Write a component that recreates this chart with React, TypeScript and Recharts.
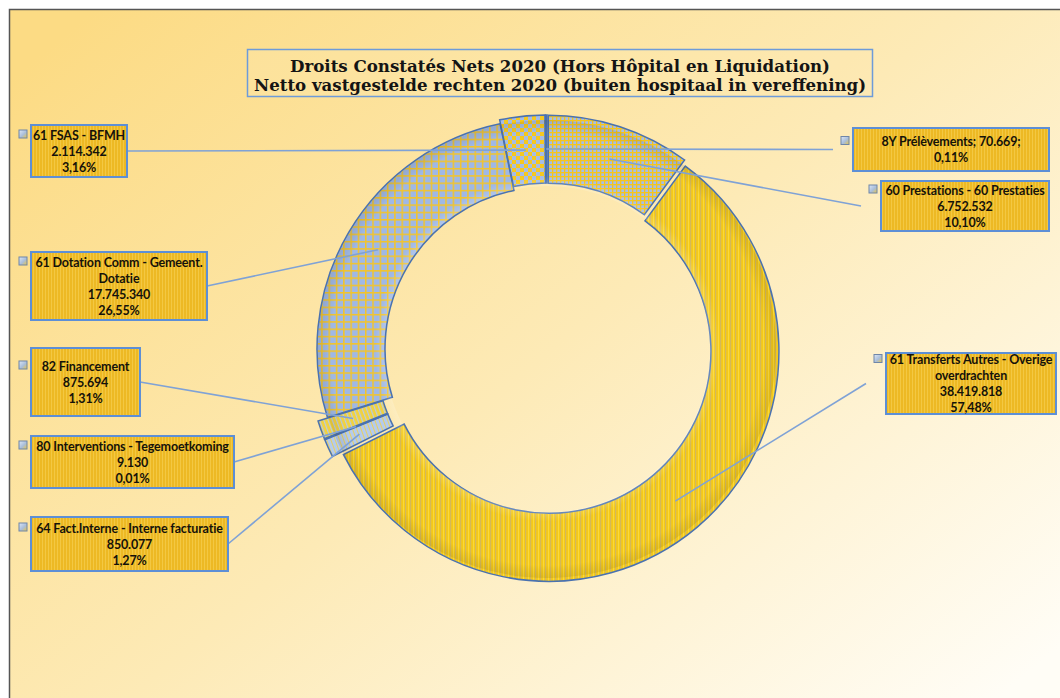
import React from 'react';
import { PieChart, Pie, Cell } from 'recharts';

// slices clockwise from 12 o'clock, as in the source workbook
const categories = [
  '60 Prestations - 60 Prestaties',
  '61 Transferts Autres - Overige overdrachten',
  '64 Fact.Interne - Interne facturatie',
  '80 Interventions - Tegemoetkoming',
  '82 Financement',
  '61 Dotation Comm - Gemeent. Dotatie',
  '61 FSAS - BFMH',
  '8Y Prélèvements',
];
const amounts = [6752532, 38419818, 850077, 9130, 875694, 17745340, 2114342, 70669];

const titleLines = [
  'Droits Constatés Nets 2020 (Hors Hôpital en Liquidation)',
  'Netto vastgestelde rechten 2020 (buiten hospitaal in vereffening)',
];

// label layout (where each text box sits, where its name wraps)
const boxes = [
  { x: 881, y: 181, w: 168, h: 50, side: 'right' },
  { x: 886, y: 353, w: 170, h: 61, side: 'right' },
  { x: 31, y: 517, w: 197, h: 54, side: 'left' },
  { x: 31, y: 436, w: 203, h: 52, side: 'left' },
  { x: 31, y: 348, w: 109, h: 68, side: 'left' },
  { x: 31, y: 252, w: 176, h: 68, side: 'left' },
  { x: 31, y: 125, w: 96, h: 52, side: 'left' },
  { x: 853, y: 128, w: 196, h: 43, side: 'right' },
];
const breakAfter = ['', 'Overige', '', '', '', 'Gemeent.', '', ''];
const inlineLabel = [false, false, false, false, false, false, false, true];

const fills = [
  'url(#patPrest)',
  'url(#patTransf)',
  'url(#patFact)',
  'url(#patFin)',
  'url(#patFin)',
  'url(#patDot)',
  'url(#patFsas)',
  '#4a6ea8',
];
const explode = [4, 3, 10, 10, 10, 0, 4, 4];

const CX = 547;
const CY = 349;
const INNER = 162;
const OUTER = 230;
const RAD = Math.PI / 180;
const EDGE = '#4a72b0';

const total = amounts.reduce((s, v) => s + v, 0);
const data = categories.map((name, i) => ({ name, value: amounts[i] }));

const fmtAmount = (n: number) => String(n).replace(/\B(?=(\d{3})+(?!\d))/g, '.');
const fmtPct = (n: number) => ((n / total) * 100).toFixed(2).replace('.', ',') + '%';

function labelLines(i: number): string[] {
  const name = categories[i];
  if (inlineLabel[i]) return [`${name}; ${fmtAmount(amounts[i])};`, fmtPct(amounts[i])];
  const cut = breakAfter[i];
  const nameRows = cut ? [name.slice(0, name.indexOf(cut) + cut.length), name.slice(name.indexOf(cut) + cut.length + 1)] : [name];
  return [...nameRows, fmtAmount(amounts[i]), fmtPct(amounts[i])];
}

// mid angle (recharts convention) of a slice, used to push exploded slices outwards
function midAngle(i: number) {
  const before = amounts.slice(0, i).reduce((s, v) => s + v, 0);
  return 90 - 360 * ((before + amounts[i] / 2) / total);
}

const renderLabel = (props: any) => {
  const { cx, cy, midAngle: mid, index } = props;
  const b = boxes[index];
  const r = (INNER + OUTER) / 2 + explode[index];
  const sx = cx + r * Math.cos(-mid * RAD);
  const sy = cy + r * Math.sin(-mid * RAD);
  const ex = b.side === 'left' ? b.x + b.w : b.x - 20;
  const ey = b.y + b.h / 2;
  const lines = labelLines(index);
  const top = b.y + b.h / 2 - (lines.length - 1) * 8;
  return (
    <g key={`lbl-${index}`}>
      <line x1={sx} y1={sy} x2={ex} y2={ey} stroke="#7fa2d6" strokeWidth={1.6} />
      <rect x={b.x} y={b.y} width={b.w} height={b.h} fill="url(#boxStripes)" stroke="#5d8fd6" strokeWidth={2} />
      <rect x={b.x - 12} y={top - 5} width={8} height={8} fill="url(#keyGrad)" stroke="#6f86a8" strokeWidth={1} />
      {lines.map((t, j) => (
        <text
          key={j}
          x={b.x + b.w / 2}
          y={top + j * 16}
          textAnchor="middle"
          dominantBaseline="central"
          fontFamily="Lato, sans-serif"
          fontWeight="bold"
          fontSize={12.5}
          letterSpacing={-0.15}
          fill="#15120a"
        >
          {t}
        </text>
      ))}
    </g>
  );
};

function Patterns() {
  return (
    <defs>
      <linearGradient id="bgGrad" x1="0" y1="0.1" x2="1" y2="0.9">
        <stop offset="0" stopColor="#fcdb84" />
        <stop offset="0.5" stopColor="#fdeab6" />
        <stop offset="1" stopColor="#fffdf6" />
      </linearGradient>
      <linearGradient id="keyGrad" x1="0" y1="0" x2="1" y2="1">
        <stop offset="0" stopColor="#dfe8f4" />
        <stop offset="0.55" stopColor="#a9bedb" />
        <stop offset="1" stopColor="#e9c542" />
      </linearGradient>
      <radialGradient id="bevel" gradientUnits="userSpaceOnUse" cx={CX} cy={CY} r={OUTER}>
        <stop offset="0.7" stopColor="#ffffff" stopOpacity={0.22} />
        <stop offset="0.75" stopColor="#ffffff" stopOpacity={0} />
        <stop offset="0.94" stopColor="#000000" stopOpacity={0} />
        <stop offset="1" stopColor="#3a2a00" stopOpacity={0.12} />
      </radialGradient>
      <pattern id="boxStripes" width="3" height="4" patternUnits="userSpaceOnUse">
        <rect width="3" height="4" fill="#edb924" />
        <rect width="1" height="4" fill="#f3c843" />
      </pattern>
      <pattern id="patTransf" width="5" height="4" patternUnits="userSpaceOnUse">
        <rect width="5" height="4" fill="#f5c918" />
        <rect x="0" width="1.2" height="4" fill="#d4b95a" />
        <rect x="3" width="0.8" height="4" fill="#fadd44" />
      </pattern>
      <pattern id="patPrest" width="4" height="4" patternUnits="userSpaceOnUse">
        <rect width="4" height="4" fill="#a6bee6" />
        <rect width="4" height="1.3" fill="#f5c51c" />
        <rect width="1.3" height="4" fill="#f5c51c" />
      </pattern>
      <pattern id="patDot" width="7.3" height="7.3" patternUnits="userSpaceOnUse">
        <rect width="7.3" height="7.3" fill="#9fb8e6" />
        <rect width="7.3" height="1.5" fill="#f3c42a" />
        <rect width="1.5" height="7.3" fill="#f3c42a" />
      </pattern>
      <pattern id="patFsas" width="8" height="8" patternUnits="userSpaceOnUse">
        <rect width="8" height="8" fill="#a6bde6" />
        <rect width="4" height="4" fill="#f6c81e" />
        <rect x="4" y="4" width="4" height="4" fill="#f6c81e" />
      </pattern>
      <pattern id="patFact" width="4" height="4" patternUnits="userSpaceOnUse" patternTransform="rotate(-20)">
        <rect width="4" height="4" fill="#b4cbee" />
        <rect width="1" height="4" fill="#e8d060" />
      </pattern>
      <pattern id="patFin" width="4" height="4" patternUnits="userSpaceOnUse" patternTransform="rotate(-20)">
        <rect width="4" height="4" fill="#f2d23c" />
        <rect width="1.2" height="4" fill="#b8cbe6" />
      </pattern>
    </defs>
  );
}

export default function App() {
  const exploded = explode.map((e, i) => (e > 0 ? i : -1)).filter((i) => i >= 0);
  return (
    <div style={{ position: 'absolute', left: 0, top: 0, width: 1060, height: 698, background: '#fff', overflow: 'hidden' }}>
      <svg width={1060} height={698} style={{ position: 'absolute', left: 0, top: 0 }}>
        <Patterns />
        <rect x={9.5} y={9.5} width={1060} height={700} fill="url(#bgGrad)" stroke="#555" strokeWidth={1.5} />
        <rect x={247.5} y={49.5} width={625} height={47} fill="#fde9ae" fillOpacity={0.35} stroke="#6d9bd9" strokeWidth={1.5} />
        {titleLines.map((t, i) => (
          <text
            key={i}
            x={560}
            y={72 + i * 19}
            textAnchor="middle"
            fontFamily="'DejaVu Serif Condensed', 'DejaVu Serif', serif"
            fontWeight="bold"
            fontSize={16}
            textLength={i === 0 ? 540 : 612}
            lengthAdjust="spacingAndGlyphs"
            fill="#141414"
          >
            {t}
          </text>
        ))}
      </svg>
      <div style={{ position: 'absolute', left: 0, top: 0 }}>
        <PieChart width={1060} height={698} margin={{ top: 0, right: 0, bottom: 0, left: 0 }}>
          <Pie
            data={data}
            dataKey="value"
            nameKey="name"
            cx={CX}
            cy={CY}
            innerRadius={INNER}
            outerRadius={OUTER}
            startAngle={90}
            endAngle={-270}
            labelLine={false}
            isAnimationActive={false}
          >
            {data.map((d, i) => (
              <Cell
                key={d.name}
                fill={explode[i] ? 'none' : fills[i]}
                stroke={explode[i] ? 'none' : EDGE}
                strokeWidth={1.5}
              />
            ))}
          </Pie>
          {exploded.map((k) => (
            <Pie
              key={`ex-${k}`}
              data={data}
              dataKey="value"
              nameKey="name"
              cx={CX + explode[k] * Math.cos(-midAngle(k) * RAD)}
              cy={CY + explode[k] * Math.sin(-midAngle(k) * RAD)}
              innerRadius={INNER}
              outerRadius={OUTER}
              startAngle={90}
              endAngle={-270}
              labelLine={false}
              isAnimationActive={false}
            >
              {data.map((d, i) => (
                <Cell
                  key={d.name}
                  fill={i === k ? fills[i] : 'none'}
                  stroke={i === k ? EDGE : 'none'}
                  strokeWidth={1.5}
                />
              ))}
            </Pie>
          ))}
          <Pie
            data={data}
            dataKey="value"
            nameKey="name"
            cx={CX}
            cy={CY}
            innerRadius={INNER + 1}
            outerRadius={OUTER - 1}
            startAngle={90}
            endAngle={-270}
            fill="url(#bevel)"
            stroke="none"
            label={renderLabel}
            labelLine={false}
            isAnimationActive={false}
          />
        </PieChart>
      </div>
    </div>
  );
}
